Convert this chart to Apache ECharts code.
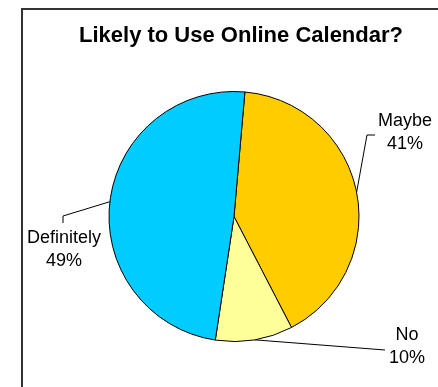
<!DOCTYPE html>
<html>
<head>
<meta charset="utf-8">
<style>
  html, body { margin: 0; padding: 0; background: #fff; }
  #chart { width: 438px; height: 387px; }
</style>
<script src="https://cdn.jsdelivr.net/npm/echarts@6/dist/echarts.min.js"></script>
</head>
<body>
<div id="chart"></div>
<script>
// answers and their share of respondents (%)
var answers = ["Maybe", "No", "Definitely"];
var shares = [41, 10, 49];
var sliceColors = ["#FFCC00", "#FFFF99", "#00CCFF"];

// where each label block sits (centre point) and how its leader line bends
var labelSpots = [
  { x: 405, y: 133, leader: "left" },
  { x: 407, y: 347, leader: "straight" },
  { x: 64, y: 250, leader: "top" }
];

var chart = echarts.init(document.getElementById("chart"));

chart.setOption({
  animation: false,
  backgroundColor: "#fff",
  textStyle: { fontFamily: "Liberation Sans, Arial, sans-serif" },
  title: {
    text: "Likely to Use Online Calendar?",
    left: 241,
    textAlign: "center",
    top: 25,
    padding: 0,
    textStyle: { fontSize: 22, fontWeight: "bold", color: "#000" }
  },
  graphic: [
    {
      type: "rect",
      shape: { x: 22, y: 9, width: 440, height: 400 },
      style: { fill: null, stroke: "#333", lineWidth: 2 },
      silent: true
    }
  ],
  series: [
    {
      type: "pie",
      center: [234, 216.5],
      radius: 125,
      startAngle: 85,
      clockwise: true,
      itemStyle: { borderColor: "#000", borderWidth: 1 },
      label: {
        show: true,
        position: "outside",
        formatter: "{b}\n{d}%",
        color: "#000",
        fontSize: 18,
        lineHeight: 23,
        align: "center",
        overflow: "none"
      },
      labelLine: {
        show: true,
        length: 10,
        length2: 10,
        lineStyle: { color: "#000", width: 1 }
      },
      labelLayout: function (p) {
        var spot = labelSpots[p.dataIndex];
        var w = p.labelRect.width;
        var h = p.labelRect.height;
        var edge = p.labelLinePoints ? p.labelLinePoints[0] : [spot.x, spot.y];
        var pts;
        if (spot.leader === "left") {
          var ex = spot.x - w / 2 - 3;
          pts = [edge, [ex - 8, spot.y + 2], [ex, spot.y + 2]];
        } else if (spot.leader === "straight") {
          var sx = spot.x - w / 2 - 4;
          pts = [edge, [sx, spot.y + 3]];
        } else {
          var top = spot.y - h / 2;
          pts = [edge, [spot.x - 1, top - 11], [spot.x - 1, top - 4]];
        }
        return {
          x: spot.x,
          y: spot.y,
          align: "center",
          verticalAlign: "middle",
          labelLinePoints: pts
        };
      },
      data: answers.map(function (name, i) {
        return { name: name, value: shares[i], itemStyle: { color: sliceColors[i] } };
      })
    }
  ]
});
</script>
</body>
</html>
